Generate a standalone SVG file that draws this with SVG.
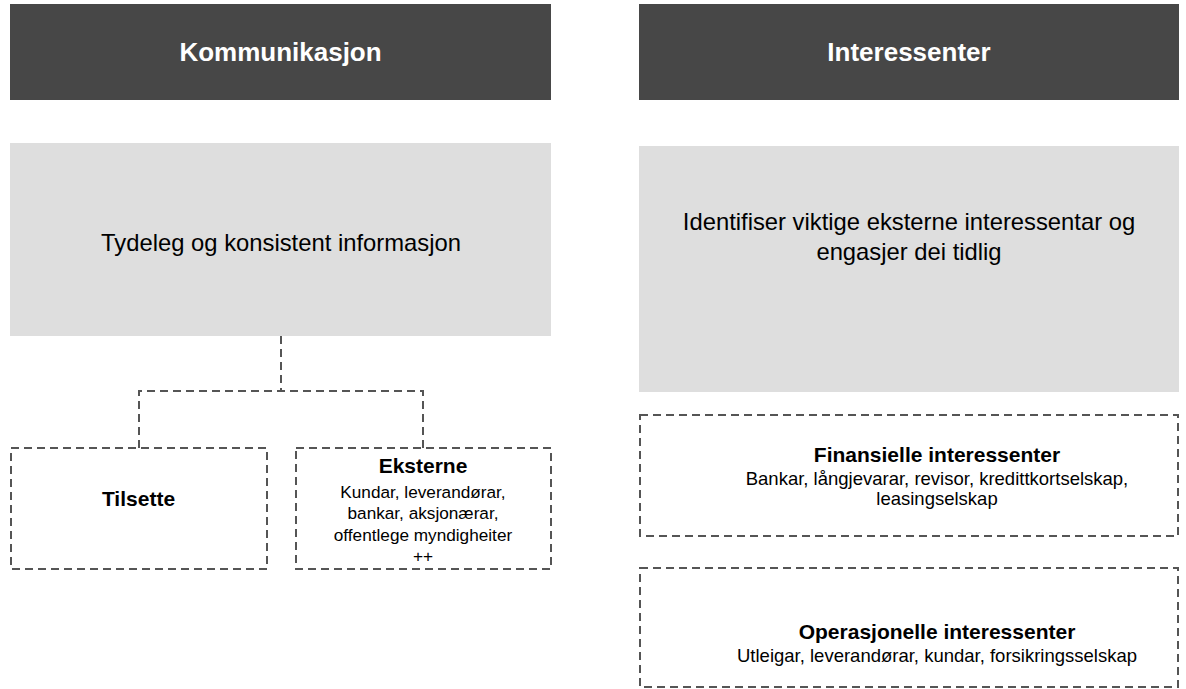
<svg xmlns="http://www.w3.org/2000/svg" width="1186" height="689" viewBox="0 0 1186 689">
<style>
.hdr{fill:#474747}
.hdrt{fill:#ffffff;font-family:"Liberation Sans",Arial,sans-serif;font-weight:bold;font-size:26px;text-anchor:middle}
.gray{fill:#dedede}
.big{fill:#000;font-family:"Liberation Sans",Arial,sans-serif;font-size:23.8px;text-anchor:middle}
.dash{fill:none;stroke:#555;stroke-width:2;stroke-dasharray:8 5}
.bt{fill:#000;font-family:"Liberation Sans",Arial,sans-serif;font-weight:bold;font-size:21px;text-anchor:middle}
.st{fill:#000;font-family:"Liberation Sans",Arial,sans-serif;font-size:17.2px;text-anchor:middle}
.sr{fill:#000;font-family:"Liberation Sans",Arial,sans-serif;font-size:18.5px;text-anchor:middle}
</style>
<rect width="1186" height="689" fill="#fff"/>
<g id="header-kommunikasjon">
<rect class="hdr" x="10" y="4" width="541" height="96"/>
<text class="hdrt" x="280.5" y="61">Kommunikasjon</text>
</g>
<g id="header-interessenter">
<rect class="hdr" x="639" y="4" width="540" height="96"/>
<text class="hdrt" x="909" y="61">Interessenter</text>
</g>
<g id="tydeleg">
<rect class="gray" x="10" y="143" width="541" height="193"/>
<text class="big" x="281" y="251">Tydeleg og konsistent informasjon</text>
</g>
<g id="identifiser">
<rect class="gray" x="639" y="146" width="540" height="246"/>
<text class="big" x="909" y="230">Identifiser viktige eksterne interessentar og</text>
<text class="big" x="909" y="260">engasjer dei tidlig</text>
</g>
<g id="connectors">
<path class="dash" d="M281 336 V391"/>
<path class="dash" d="M139 448 V391 H423 V448"/>
</g>
<g id="tilsette">
<rect class="dash" x="11" y="448" width="256" height="121"/>
<text class="bt" x="138.5" y="506">Tilsette</text>
</g>
<g id="eksterne">
<rect class="dash" x="296" y="448" width="255" height="121"/>
<text class="bt" x="423" y="473">Eksterne</text>
<text class="st" x="423" y="498">Kundar, leverandørar,</text>
<text class="st" x="423" y="519">bankar, aksjonærar,</text>
<text class="st" x="423" y="541">offentlege myndigheiter</text>
<text class="st" x="423" y="562">++</text>
</g>
<g id="finansielle">
<rect class="dash" x="640" y="415" width="538" height="121"/>
<text class="bt" x="937" y="462">Finansielle interessenter</text>
<text class="sr" x="937" y="485">Bankar, långjevarar, revisor, kredittkortselskap,</text>
<text class="sr" x="937" y="505">leasingselskap</text>
</g>
<g id="operasjonelle">
<rect class="dash" x="640" y="568" width="538" height="119"/>
<text class="bt" x="937" y="639">Operasjonelle interessenter</text>
<text class="sr" x="937" y="662">Utleigar, leverandørar, kundar, forsikringsselskap</text>
</g>
</svg>
